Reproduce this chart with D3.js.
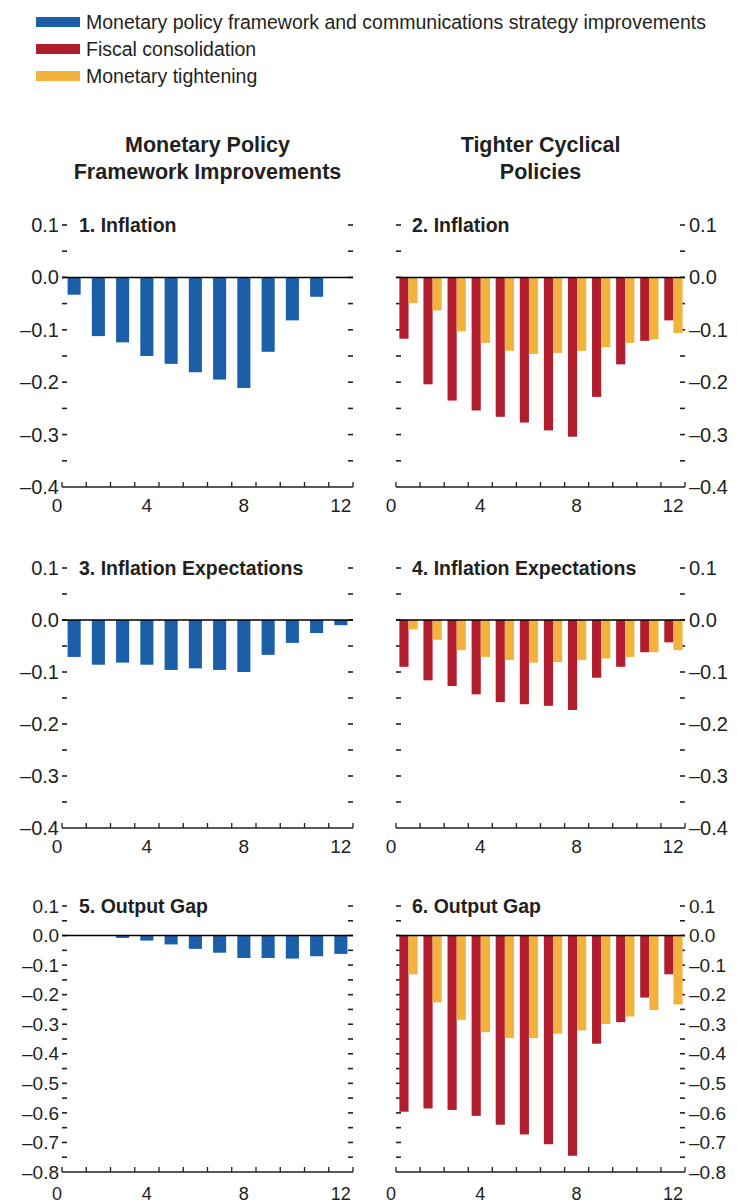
<!DOCTYPE html>
<html>
<head>
<meta charset="utf-8">
<script src="https://cdn.jsdelivr.net/npm/d3@7"></script>
<style>
  body { margin: 0; background: #fff; }
  svg text { font-family: "Liberation Sans", Arial, sans-serif; fill: #231f20; }
</style>
</head>
<body>
<script>
'use strict';

// quarters after the shock
var quarters = [1, 2, 3, 4, 5, 6, 7, 8, 9, 10, 11, 12];
var xTickLabels = ["0", "4", "8", "12"];

var seriesNames = [
    "Monetary policy framework and communications strategy improvements",
    "Fiscal consolidation",
    "Monetary tightening"
];
var seriesColors = ["#1b5fa8", "#b21d2d", "#f2b23e"];

var columnTitles = [
    ["Monetary Policy", "Framework Improvements"],
    ["Tighter Cyclical", "Policies"]
];
var panelTitles = ["1. Inflation", "2. Inflation", "3. Inflation Expectations",
    "4. Inflation Expectations", "5. Output Gap", "6. Output Gap"];

// panel 1
var inflationFramework = [-0.033, -0.112, -0.124, -0.150, -0.165, -0.181, -0.195, -0.211, -0.142, -0.082, -0.037, 0];
// panel 2
var inflationFiscal = [-0.117, -0.204, -0.235, -0.254, -0.266, -0.277, -0.292, -0.304, -0.228, -0.166, -0.121, -0.082];
var inflationTightening = [-0.049, -0.063, -0.103, -0.125, -0.140, -0.146, -0.144, -0.140, -0.133, -0.125, -0.118, -0.106];
// panel 3
var expectFramework = [-0.071, -0.086, -0.082, -0.086, -0.096, -0.093, -0.096, -0.100, -0.067, -0.044, -0.025, -0.010];
// panel 4
var expectFiscal = [-0.090, -0.116, -0.127, -0.143, -0.158, -0.162, -0.165, -0.173, -0.111, -0.090, -0.062, -0.043];
var expectTightening = [-0.018, -0.038, -0.058, -0.071, -0.077, -0.082, -0.081, -0.077, -0.074, -0.071, -0.062, -0.058];
// panel 5
var gapFramework = [0, 0, -0.008, -0.017, -0.030, -0.045, -0.058, -0.076, -0.076, -0.078, -0.070, -0.062];
// panel 6
var gapFiscal = [-0.596, -0.585, -0.590, -0.610, -0.640, -0.673, -0.706, -0.745, -0.366, -0.293, -0.210, -0.131];
var gapTightening = [-0.131, -0.226, -0.285, -0.327, -0.347, -0.347, -0.332, -0.321, -0.299, -0.274, -0.252, -0.233];

var yTicksInfl = [0.1, 0.0, -0.1, -0.2, -0.3, -0.4];
var yTicksGap = [0.1, 0.0, -0.1, -0.2, -0.3, -0.4, -0.5, -0.6, -0.7, -0.8];

var width = 737, height = 1204;
var cols = [{ left: 62, right: 353 }, { left: 396, right: 685 }];
var rows = [
    { top: 225, bottom: 487, domain: [-0.4, 0.1], ticks: yTicksInfl },
    { top: 568, bottom: 828, domain: [-0.4, 0.1], ticks: yTicksInfl },
    { top: 906, bottom: 1172, domain: [-0.8, 0.1], ticks: yTicksGap }
];

var panels = [
    { row: 0, col: 0, series: [inflationFramework], colors: [0] },
    { row: 0, col: 1, series: [inflationFiscal, inflationTightening], colors: [1, 2] },
    { row: 1, col: 0, series: [expectFramework], colors: [0] },
    { row: 1, col: 1, series: [expectFiscal, expectTightening], colors: [1, 2] },
    { row: 2, col: 0, series: [gapFramework], colors: [0] },
    { row: 2, col: 1, series: [gapFiscal, gapTightening], colors: [1, 2] }
];

var svg = d3.select("body").append("svg")
    .attr("width", width)
    .attr("height", height);

// legend
var legend = svg.append("g").attr("class", "legend");
seriesNames.forEach(function(name, i) {
    var g = legend.append("g").attr("transform", "translate(36," + (22 + i * 27) + ")");
    g.append("rect")
        .attr("x", 0).attr("y", -5)
        .attr("width", 44).attr("height", 10)
        .attr("fill", seriesColors[i]);
    g.append("text")
        .attr("x", 50).attr("dy", "0.35em")
        .style("font-size", "19.5px")
        .text(name);
});

// column headings
columnTitles.forEach(function(lines, c) {
    var cx = (cols[c].left + cols[c].right) / 2;
    lines.forEach(function(line, j) {
        svg.append("text")
            .attr("x", cx)
            .attr("y", 152 + j * 27)
            .attr("text-anchor", "middle")
            .style("font-size", "21.5px")
            .style("font-weight", "bold")
            .text(line);
    });
});

panels.forEach(function(p, i) {
    var col = cols[p.col], row = rows[p.row];
    var lastRow = p.row === rows.length - 1;

    var x = d3.scaleBand()
        .domain(quarters)
        .range([col.left, col.right])
        .padding(0);

    var y = d3.scaleLinear()
        .domain(row.domain)
        .range([row.bottom, row.top]);

    var g = svg.append("g").attr("class", "panel");

    // y ticks (inward on both sides, minor every 0.05)
    var minor = d3.range(Math.round(row.domain[0] * 20), Math.round(row.domain[1] * 20) + 1)
        .map(function(d) { return d / 20; });
    [col.left, col.right].forEach(function(edge, k) {
        g.selectAll(null)
            .data(minor.filter(function(d) { return d > row.domain[0] + 1e-9; }))
            .enter().append("line")
            .attr("x1", edge)
            .attr("x2", k === 0 ? edge + 5 : edge - 5)
            .attr("y1", function(d) { return y(d); })
            .attr("y2", function(d) { return y(d); })
            .attr("stroke", "#231f20")
            .attr("stroke-width", 1.6);
    });

    // y tick labels
    var fmt = function(d) {
        var s = d3.format(".1f")(Math.abs(d));
        return (d < -1e-9 ? "\u2013" : "") + s;
    };
    g.selectAll(null)
        .data(row.ticks)
        .enter().append("text")
        .attr("x", p.col === 0 ? col.left - 3 : col.right + 4)
        .attr("y", function(d) { return y(d); })
        .attr("dy", "0.35em")
        .attr("text-anchor", p.col === 0 ? "end" : "start")
        .style("font-size", lastRow ? "19px" : "20px")
        .text(fmt);

    // bars
    var sub = d3.scaleBand()
        .domain(d3.range(p.series.length))
        .range(p.series.length === 1 ? [x.bandwidth() * 0.23, x.bandwidth() * 0.77]
                                     : [x.bandwidth() * 0.14, x.bandwidth() * 0.9]);

    p.series.forEach(function(vals, s) {
        g.selectAll(null)
            .data(vals)
            .enter().append("rect")
            .attr("x", function(d, k) { return x(quarters[k]) + sub(s); })
            .attr("width", sub.bandwidth())
            .attr("y", function(d) { return y(Math.max(0, d)); })
            .attr("height", function(d) { return Math.abs(y(d) - y(0)); })
            .attr("fill", seriesColors[p.colors[s]]);
    });

    // zero line
    g.append("line")
        .attr("x1", col.left).attr("x2", col.right)
        .attr("y1", y(0)).attr("y2", y(0))
        .attr("stroke", "#000")
        .attr("stroke-width", 1.5);

    // x axis line + inward ticks at band edges
    g.append("line")
        .attr("x1", col.left).attr("x2", col.right)
        .attr("y1", row.bottom).attr("y2", row.bottom)
        .attr("stroke", "#231f20")
        .attr("stroke-width", 1.5);
    g.selectAll(null)
        .data(quarters.concat([0]))
        .enter().append("line")
        .attr("x1", function(d) { return d === 0 ? col.left : x(d) + x.bandwidth(); })
        .attr("x2", function(d) { return d === 0 ? col.left : x(d) + x.bandwidth(); })
        .attr("y1", row.bottom)
        .attr("y2", row.bottom - 5)
        .attr("stroke", "#231f20")
        .attr("stroke-width", 1.3);

    // x labels
    g.selectAll(null)
        .data(xTickLabels)
        .enter().append("text")
        .attr("x", function(d) {
            return d === "0" ? col.left - 5 : x(+d) + x.bandwidth() / 2;
        })
        .attr("y", lastRow ? height - 4 : row.bottom + 25)
        .attr("text-anchor", "middle")
        .style("font-size", lastRow ? "18px" : "19px")
        .text(function(d) { return d; });

    // panel title
    g.append("text")
        .attr("x", col.left + (p.col === 0 ? 17 : 16))
        .attr("y", y(0.1))
        .attr("dy", "0.35em")
        .style("font-size", "19.5px")
        .style("font-weight", "bold")
        .text(panelTitles[i]);
});
</script>
</body>
</html>
